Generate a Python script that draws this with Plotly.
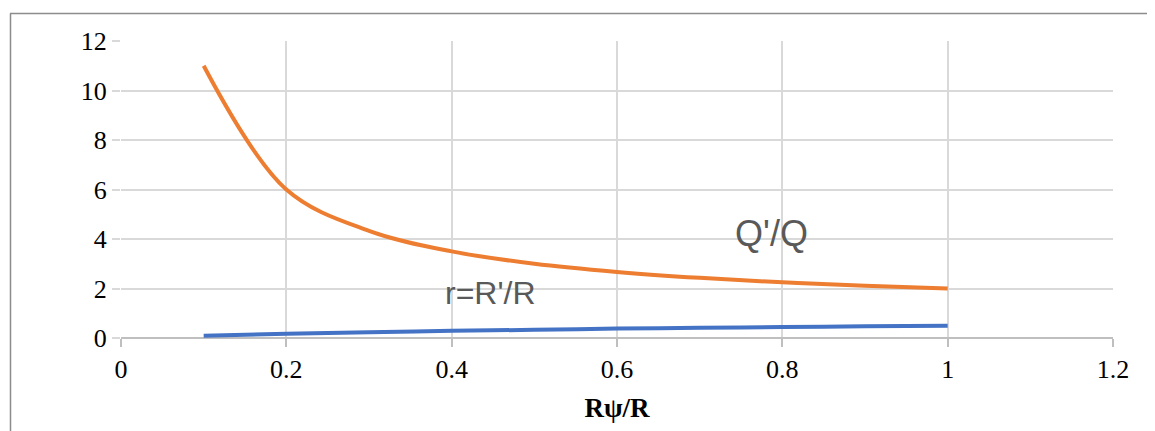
import plotly.graph_objects as go

# Data
x_ratio = [0.1, 0.2, 0.3, 0.4, 0.5, 0.6, 0.7, 0.8, 0.9, 1.0]
q_ratio = [11.0, 6.0, 4.33, 3.5, 3.0, 2.67, 2.43, 2.25, 2.11, 2.0]
r_ratio = [0.09, 0.17, 0.23, 0.29, 0.33, 0.38, 0.41, 0.44, 0.47, 0.5]

x_ticks = [0, 0.2, 0.4, 0.6, 0.8, 1, 1.2]
x_tick_labels = ["0", "0.2", "0.4", "0.6", "0.8", "1", "1.2"]
y_ticks = [0, 2, 4, 6, 8, 10, 12]

# page offset from default body margin
OFF = 8
W, H = 1155 - OFF, 431 - OFF
L, R, T, B = 121 - OFF, 42, 41 - OFF, 93
pw, ph = W - L - R, H - T - B

def px_x(px):
    return (px - OFF - L) / pw

def px_y(py):
    return (H - B - (py - OFF)) / ph

fig = go.Figure()
fig.add_trace(go.Scatter(x=x_ratio, y=r_ratio, mode="lines",
                         line=dict(color="#4472C4", width=4, shape="spline"),
                         showlegend=False, name="r=R'/R"))
fig.add_trace(go.Scatter(x=x_ratio, y=q_ratio, mode="lines",
                         line=dict(color="#ED7D31", width=4, shape="spline"),
                         showlegend=False, name="Q'/Q"))

fig.update_layout(
    width=W, height=H,
    margin=dict(l=L, r=R, t=T, b=B, pad=0),
    paper_bgcolor="white", plot_bgcolor="white",
    font=dict(family="Liberation Serif", color="#000000", size=26),
    xaxis=dict(range=[0, 1.2], tickvals=x_ticks, ticktext=x_tick_labels,
               showgrid=True, gridcolor="#d9d9d9", gridwidth=1.5,
               zeroline=False, showline=False,
               ticks="outside", ticklen=8, tickcolor="#bfbfbf", tickwidth=1.5,
               tickfont=dict(family="Liberation Serif", size=26),
               title=dict(text="<b>Rψ/R</b>", standoff=14,
                          font=dict(family="Liberation Serif", size=27))),
    yaxis=dict(range=[0, 12], tickvals=y_ticks,
               showgrid=True, gridcolor="#d9d9d9", gridwidth=1.5,
               zeroline=True, zerolinecolor="#bfbfbf", zerolinewidth=2,
               showline=False,
               ticks="outside", ticklen=8, tickcolor="#d9d9d9", tickwidth=1.5,
               tickfont=dict(family="Liberation Serif", size=26)),
)

fig.add_annotation(x=px_x(771), y=px_y(256), xref="paper", yref="paper",
                   text="Q'/Q", showarrow=False,
                   font=dict(family="Liberation Sans", size=36, color="#595959"))
fig.add_annotation(x=px_x(490), y=px_y(313), xref="paper", yref="paper",
                   text="r=R'/R", showarrow=False,
                   font=dict(family="Liberation Sans", size=32, color="#595959"))

# outer chart border (top and left visible)
fig.add_shape(type="line", xref="paper", yref="paper",
              x0=px_x(10), x1=px_x(1155), y0=px_y(13.5), y1=px_y(13.5),
              line=dict(color="#8c8c8c", width=1.5))
fig.add_shape(type="line", xref="paper", yref="paper",
              x0=px_x(10.5), x1=px_x(10.5), y0=px_y(13.5), y1=px_y(431),
              line=dict(color="#8c8c8c", width=1.5))

fig.write_html("out.html", config={"displayModeBar": False})
